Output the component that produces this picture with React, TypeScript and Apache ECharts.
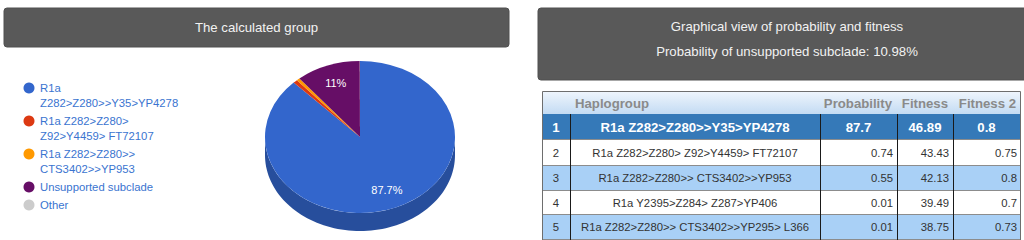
import React, { useEffect, useRef } from "react";
import * as echarts from "echarts";

// ---------- data ----------
const titleLeft = "The calculated group";
const titleRight = [
  "Graphical view of probability and fitness",
  "Probability of unsupported subclade: 10.98%",
];

const sliceLabels = [
  "R1a\nZ282>Z280>>Y35>YP4278",
  "R1a Z282>Z280>\nZ92>Y4459> FT72107",
  "R1a Z282>Z280>>\nCTS3402>>YP953",
  "Unsupported subclade",
  "Other",
];
const sliceValues = [87.7, 0.74, 0.55, 10.98, 0.03];

const tableHeaders = ["", "Haplogroup", "Probability", "Fitness", "Fitness 2"];
const rowNumbers = [1, 2, 3, 4, 5];
const haplogroups = [
  "R1a Z282>Z280>>Y35>YP4278",
  "R1a Z282>Z280> Z92>Y4459> FT72107",
  "R1a Z282>Z280>> CTS3402>>YP953",
  "R1a Y2395>Z284> Z287>YP406",
  "R1a Z282>Z280>> CTS3402>>YP295> L366",
];
const probabilities = [87.7, 0.74, 0.55, 0.01, 0.01];
const fitness = [46.89, 43.43, 42.13, 39.49, 38.75];
const fitness2 = [0.8, 0.75, 0.8, 0.7, 0.73];

// ---------- styles ----------
const sliceColors = ["#3366cc", "#dc3912", "#ff9900", "#660e66", "#cccccc"];
const sideColors = ["#274e9c", "#a82b0e", "#c27400", "#4d0a4d", "#9b9b9b"];
const FONT = '"Liberation Sans", Arial, sans-serif';

const CX = 360;
const CY = 137;
const RX = 95;
const RY = 76;
const DEPTH = 18;

const colEdges = [542, 570, 820, 897, 953, 1020];
const rowEdges = [91, 114, 139, 165, 190, 214, 239];

function txt(
  x: number,
  y: number,
  text: string,
  opts: { size?: number; color?: string; weight?: string; align?: string; valign?: string; lineHeight?: number } = {}
) {
  const align = opts.align || "center";
  const valign = opts.valign || "middle";
  return {
    type: "text",
    x,
    y,
    silent: true,
    style: {
      text,
      fill: opts.color || "#333",
      fontSize: opts.size || 11.3,
      fontFamily: FONT,
      fontWeight: opts.weight || "normal",
      lineHeight: opts.lineHeight,
      align,
      verticalAlign: valign,
      textAlign: align,
      textVerticalAlign: valign,
    },
  };
}

function buildGraphic() {
  const els: any[] = [];
  // header boxes
  els.push({
    type: "rect",
    shape: { x: 4, y: 8, width: 505, height: 39, r: 3 },
    style: { fill: "#595959", stroke: "#505050", lineWidth: 1 },
  });
  els.push(txt(256.5, 27.5, titleLeft, { size: 13.2, color: "#f2f2f2" }));
  els.push({
    type: "rect",
    shape: { x: 538, y: 8, width: 500, height: 72, r: 3 },
    style: { fill: "#595959", stroke: "#505050", lineWidth: 1 },
  });
  els.push(txt(787, 26.5, titleRight[0], { size: 13.2, color: "#f2f2f2" }));
  els.push(txt(787, 51, titleRight[1], { size: 13.2, color: "#f2f2f2" }));

  // legend
  let ly = 88;
  sliceLabels.forEach((lab, i) => {
    const lines = lab.split("\n").length;
    els.push({
      type: "circle",
      shape: { cx: 29, cy: ly, r: 5.5 },
      style: { fill: sliceColors[i] },
    });
    els.push(
      txt(40, ly - 7.5, lab, { size: 11.3, color: "#3a74d0", align: "left", valign: "top", lineHeight: 15 })
    );
    ly += lines * 15 + 3;
  });

  // table
  const left = colEdges[0];
  const right = colEdges[colEdges.length - 1];
  const top = rowEdges[0];
  els.push({
    type: "rect",
    shape: { x: left, y: rowEdges[0], width: right - left, height: rowEdges[1] - rowEdges[0] },
    style: {
      fill: {
        type: "linear",
        x: 0,
        y: 0,
        x2: 0,
        y2: 1,
        colorStops: [
          { offset: 0, color: "#f0f6fd" },
          { offset: 1, color: "#c3dbf3" },
        ],
      },
    },
  });
  rowNumbers.forEach((_, r) => {
    const y0 = rowEdges[r + 1];
    const y1 = rowEdges[r + 2];
    const fill = r === 0 ? "#3579b8" : r % 2 === 1 ? "#ffffff" : "#a9d0f6";
    els.push({
      type: "rect",
      shape: { x: left, y: y0, width: right - left, height: y1 - y0 },
      style: { fill },
    });
  });
  // horizontal lines
  for (let r = 2; r < rowEdges.length; r++) {
    els.push({
      type: "line",
      shape: { x1: left, y1: rowEdges[r] + 0.5, x2: right, y2: rowEdges[r] + 0.5 },
      style: { stroke: "#8c8c8c", lineWidth: 1 },
    });
  }
  // vertical lines
  for (let c = 1; c < colEdges.length - 1; c++) {
    els.push({
      type: "line",
      shape: { x1: colEdges[c] + 0.5, y1: rowEdges[1], x2: colEdges[c] + 0.5, y2: 240 },
      style: { stroke: "#1a1a1a", lineWidth: 1 },
    });
  }
  // outer border
  els.push({
    type: "polyline",
    shape: {
      points: [
        [left + 0.5, 240],
        [left + 0.5, top + 0.5],
        [right + 0.5, top + 0.5],
        [right + 0.5, 240],
      ],
    },
    style: { stroke: "#6e6e6e", lineWidth: 1, fill: null },
  });

  // header texts
  const hy = (rowEdges[0] + rowEdges[1]) / 2 + 0.5;
  els.push(txt(colEdges[1] + 5, hy, tableHeaders[1], { size: 13.2, weight: "bold", color: "#8a8a8a", align: "left" }));
  els.push(txt(colEdges[3] - 5, hy, tableHeaders[2], { size: 13.2, weight: "bold", color: "#8a8a8a", align: "right" }));
  els.push(txt(colEdges[4] - 5, hy, tableHeaders[3], { size: 13.2, weight: "bold", color: "#8a8a8a", align: "right" }));
  els.push(txt(colEdges[5] - 4, hy, tableHeaders[4], { size: 13.2, weight: "bold", color: "#8a8a8a", align: "right" }));

  rowNumbers.forEach((n, r) => {
    const cy = (rowEdges[r + 1] + rowEdges[r + 2]) / 2 + 0.5;
    const vals = [String(n), haplogroups[r], String(probabilities[r]), String(fitness[r]), String(fitness2[r])];
    if (r === 0) {
      vals.forEach((v, c) => {
        els.push(
          txt((colEdges[c] + colEdges[c + 1]) / 2, cy, v, { size: 13.2, weight: "bold", color: "#ffffff" })
        );
      });
    } else {
      els.push(txt((colEdges[0] + colEdges[1]) / 2, cy, vals[0], { color: "#333" }));
      els.push(txt((colEdges[1] + colEdges[2]) / 2, cy, vals[1], { color: "#333" }));
      els.push(txt(colEdges[3] - 4, cy, vals[2], { color: "#333", align: "right" }));
      els.push(txt(colEdges[4] - 4, cy, vals[3], { color: "#333", align: "right" }));
      els.push(txt(colEdges[5] - 3, cy, vals[4], { color: "#333", align: "right" }));
    }
  });
  return els;
}

export default function App() {
  const ref = useRef<HTMLDivElement>(null);
  useEffect(() => {
    if (!ref.current) return;
    const chart = echarts.init(ref.current, undefined, { renderer: "svg" });
    const total = sliceValues.reduce((a, b) => a + b, 0);
    chart.setOption({
      animation: false,
      backgroundColor: "#ffffff",
      series: [
        {
          type: "custom",
          coordinateSystem: "none",
          silent: true,
          data: sliceValues.map((v) => [v]),
          renderItem: (params: any, api: any) => {
            const i = params.dataIndex;
            const v = api.value(0) as number;
            let before = 0;
            for (let k = 0; k < i; k++) before += sliceValues[k];
            const s = -Math.PI / 2 + (before / total) * Math.PI * 2;
            const e = s + (v / total) * Math.PI * 2;
            const children: any[] = [];
            const a0 = Math.max(s, 0);
            const a1 = Math.min(e, Math.PI);
            if (a1 > a0) {
              const pts: number[][] = [];
              const n = 80;
              for (let j = 0; j <= n; j++) {
                const a = a0 + ((a1 - a0) * j) / n;
                pts.push([CX + RX * Math.cos(a), CY + RY * Math.sin(a)]);
              }
              for (let j = n; j >= 0; j--) {
                const a = a0 + ((a1 - a0) * j) / n;
                pts.push([CX + RX * Math.cos(a), CY + RY * Math.sin(a) + DEPTH]);
              }
              children.push({ type: "polygon", shape: { points: pts }, style: { fill: sideColors[i] } });
            }
            children.push({
              type: "group",
              x: CX,
              y: CY,
              scaleY: RY / RX,
              children: [
                {
                  type: "sector",
                  shape: { cx: 0, cy: 0, r: RX, r0: 0, startAngle: s, endAngle: e, clockwise: true },
                  style: { fill: sliceColors[i] },
                },
              ],
            });
            const pct = (v / total) * 100;
            if (pct >= 5) {
              const mid = (s + e) / 2;
              children.push({
                type: "text",
                x: CX + 0.75 * RX * Math.cos(mid),
                y: CY + 0.75 * RY * Math.sin(mid),
                style: {
                  text: parseFloat(pct.toFixed(1)) + "%",
                  fill: "#ffffff",
                  fontSize: 11,
                  fontFamily: FONT,
                  align: "center",
                  verticalAlign: "middle",
                  textAlign: "center",
                  textVerticalAlign: "middle",
                },
              });
            }
            return { type: "group", children };
          },
        },
      ],
      graphic: { elements: buildGraphic() },
    });
    return () => chart.dispose();
  }, []);
  return (
    <div
      ref={ref}
      style={{ position: "fixed", left: 0, top: 0, width: 1024, height: 240 }}
    />
  );
}
